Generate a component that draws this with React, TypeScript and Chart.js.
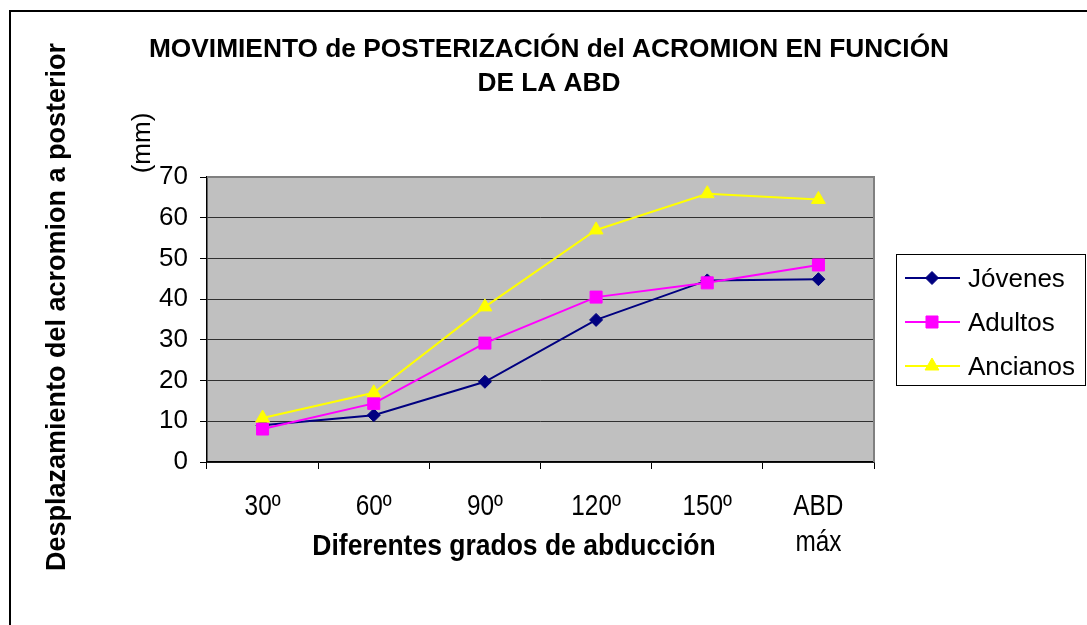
import React, { useEffect, useRef } from 'react';
import { Chart, registerables } from 'chart.js';
import { drawPoint } from 'chart.js/helpers';

Chart.register(...registerables);

const categories = ['30º', '60º', '90º', '120º', '150º', 'ABD máx'];
const jovenes = [9.0, 11.5, 19.7, 34.9, 44.6, 44.9];
const adultos = [8.1, 14.4, 29.2, 40.5, 44.0, 48.4];
const ancianos = [10.8, 17.0, 38.1, 57.0, 65.9, 64.5];
const seriesNames = ['Jóvenes', 'Adultos', 'Ancianos'];
const yTicks = { min: 0, max: 70, step: 10 };

const titleLines = ['MOVIMIENTO de POSTERIZACIÓN del ACROMION EN FUNCIÓN', 'DE LA ABD'];
const yTitle = 'Desplazamiento del acromion a posterior';
const yUnit = '(mm)';
const xTitle = 'Diferentes grados de abducción';

const SANS = "'Liberation Sans', Arial, sans-serif";

const decor = {
  id: 'decor',
  beforeDraw(chart: any) {
    const { ctx, chartArea: a } = chart;
    ctx.save();
    ctx.fillStyle = '#ffffff';
    ctx.fillRect(0, 0, chart.width, chart.height);
    ctx.fillStyle = '#C0C0C0';
    ctx.fillRect(a.left, a.top, a.right - a.left, a.bottom - a.top);
    ctx.restore();
  },
  afterDraw(chart: any) {
    const { ctx, chartArea: a } = chart;
    ctx.save();
    // plot area top/right border (gray)
    ctx.strokeStyle = '#808080';
    ctx.lineWidth = 2;
    ctx.beginPath();
    ctx.moveTo(a.left, a.top);
    ctx.lineTo(a.right, a.top);
    ctx.lineTo(a.right, a.bottom);
    ctx.stroke();

    // outer frame
    ctx.strokeStyle = '#000';
    ctx.lineWidth = 2;
    ctx.strokeRect(10, 11, 1400, 1400);

    ctx.fillStyle = '#000';
    // title
    ctx.font = `bold 26.3px ${SANS}`;
    ctx.textAlign = 'center';
    ctx.textBaseline = 'alphabetic';
    ctx.fillText(titleLines[0], 549, 57);
    ctx.fillText(titleLines[1], 549, 91);

    // y title
    ctx.save();
    ctx.translate(65, 307);
    ctx.rotate(-Math.PI / 2);
    ctx.font = `bold 27px ${SANS}`;
    ctx.fillText(yTitle, 0, 0);
    ctx.restore();

    ctx.save();
    ctx.translate(150, 143);
    ctx.rotate(-Math.PI / 2);
    ctx.font = `26px ${SANS}`;
    ctx.fillText(yUnit, 0, 0);
    ctx.restore();

    // x tick labels (narrow style), positioned by the category scale
    const xs = chart.scales.x;
    ctx.font = `29px ${SANS}`;
    xs.ticks.forEach((t: any, i: number) => {
      const x = xs.getPixelForTick(i);
      const lines = String(xs.getLabelForValue(t.value)).split(' ');
      lines.forEach((ln: string, j: number) => {
        ctx.save();
        ctx.translate(x, xs.top + 53 + 36 * j);
        ctx.scale(0.84, 1);
        ctx.fillText(ln, 0, 0);
        ctx.restore();
      });
    });

    // x title
    ctx.save();
    ctx.translate(514, 555);
    ctx.scale(0.92, 1);
    ctx.font = `bold 28.8px ${SANS}`;
    ctx.fillText(xTitle, 0, 0);
    ctx.restore();

    // legend
    ctx.strokeStyle = '#000';
    ctx.lineWidth = 1;
    ctx.strokeRect(896.5, 254.5, 189, 131);
    chart.data.datasets.forEach((ds: any, i: number) => {
      const y = 278 + 44 * i;
      ctx.strokeStyle = ds.borderColor;
      ctx.lineWidth = 2;
      ctx.beginPath();
      ctx.moveTo(905, y);
      ctx.lineTo(960, y);
      ctx.stroke();
      ctx.fillStyle = ds.pointBackgroundColor;
      ctx.strokeStyle = ds.pointBorderColor;
      ctx.lineWidth = 1;
      drawPoint(ctx, { pointStyle: ds.pointStyle, radius: ds.pointRadius, rotation: 0, borderWidth: 1 }, 932, y);
      ctx.fillStyle = '#000';
      ctx.textAlign = 'left';
      ctx.font = `26px ${SANS}`;
      ctx.fillText(ds.label, 968, y + 9);
    });
    ctx.restore();
  },
};

export default function App() {
  const ref = useRef<HTMLCanvasElement>(null);
  useEffect(() => {
    const mk = (label: string, data: number[], color: string, style: string, r: number, order: number) => ({
      label,
      data,
      borderColor: color,
      backgroundColor: color,
      pointBackgroundColor: color,
      pointBorderColor: color,
      pointBorderWidth: 1,
      pointStyle: style,
      pointRadius: r,
      borderWidth: 2,
      tension: 0,
      order,
    });
    const chart = new Chart(ref.current!, {
      type: 'line',
      data: {
        labels: categories,
        datasets: [
          mk(seriesNames[0], jovenes, '#000080', 'rectRot', 6.5, 3),
          mk(seriesNames[1], adultos, '#FF00FF', 'rect', 8.5, 2),
          mk(seriesNames[2], ancianos, '#FFFF00', 'triangle', 8, 1),
        ],
      },
      options: {
        responsive: false,
        devicePixelRatio: 1,
        animation: false,
        layout: { padding: { top: 177, right: 213, left: 0, bottom: 0 } },
        plugins: { legend: { display: false }, title: { display: false }, tooltip: { enabled: false } },
        scales: {
          x: {
            type: 'category',
            offset: true,
            ticks: { display: false, autoSkip: false, maxRotation: 0 },
            grid: { offset: true, drawOnChartArea: false, tickLength: 7, color: '#000' },
            border: { color: '#000', width: 1.5 },
            afterFit: (s: any) => { s.height = 163; },
          },
          y: {
            min: yTicks.min,
            max: yTicks.max,
            ticks: { stepSize: yTicks.step, color: '#000', font: { family: SANS, size: 26 }, padding: 12 },
            grid: { color: '#303030', lineWidth: 1, tickLength: 7, tickColor: '#000' },
            border: { color: '#000', width: 1.5 },
            afterFit: (s: any) => { s.width = 207; },
          },
        },
      },
      plugins: [decor],
    } as any);
    return () => chart.destroy();
  }, []);
  return (
    <div style={{ position: 'absolute', left: 0, top: 0, width: 1087, height: 625, background: '#fff' }}>
      <canvas ref={ref} width={1087} height={625} style={{ display: 'block' }} />
    </div>
  );
}
